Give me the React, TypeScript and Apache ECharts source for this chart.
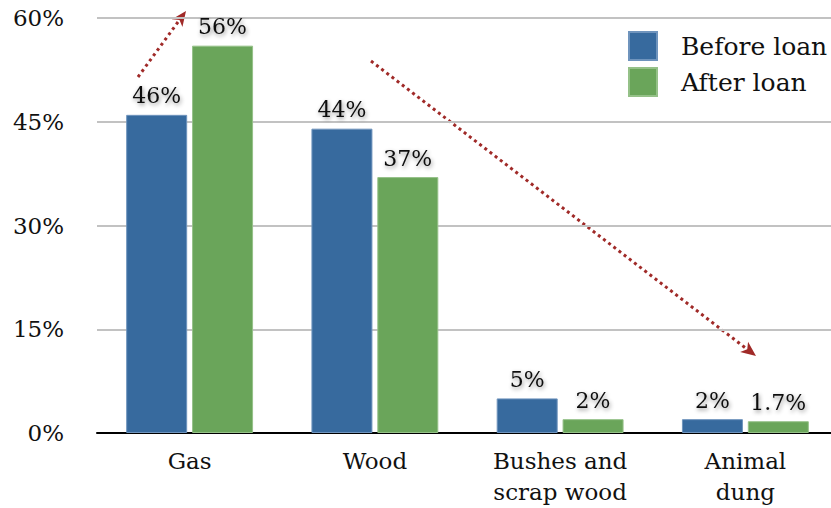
import React, { useEffect, useRef } from "react";
import * as echarts from "echarts";

const categories = ["Gas", "Wood", "Bushes and\nscrap wood", "Animal\ndung"];
const beforeLoan = [46, 44, 5, 2];
const afterLoan = [56, 37, 2, 1.7];
const seriesNames = ["Before loan", "After loan"];
const yTicks = { min: 0, max: 60, interval: 15 };

const FONT = "'DejaVu Serif', Georgia, serif";
const TEXT = "#111111";
const ARROW_RED = "#a02a28";

// Dotted annotation arrow: a dashed shaft plus a filled triangular head.
function arrow(x1: number, y1: number, x2: number, y2: number) {
  const dx = x2 - x1;
  const dy = y2 - y1;
  const len = Math.hypot(dx, dy);
  const ux = dx / len;
  const uy = dy / len;
  const headLen = 15;
  const headHalf = 6.5;
  const bx = x2 - ux * headLen;
  const by = y2 - uy * headLen;
  const px = -uy;
  const py = ux;
  return [
    {
      type: "line",
      shape: { x1, y1, x2: bx + ux * 2, y2: by + uy * 2 },
      style: { stroke: ARROW_RED, lineWidth: 3, lineDash: [3, 3.5] },
      silent: true,
    },
    {
      type: "polygon",
      shape: {
        points: [
          [x2, y2],
          [bx + px * headHalf, by + py * headHalf],
          [bx + ux * 4, by + uy * 4],
          [bx - px * headHalf, by - py * headHalf],
        ],
      },
      style: { fill: ARROW_RED },
      silent: true,
    },
  ];
}

const labelStyle = {
  show: true,
  position: "top" as const,
  distance: 8,
  fontFamily: FONT,
  fontSize: 22,
  color: TEXT,
  formatter: (p: any) => `${p.value}%`,
  textShadowColor: "rgba(0,0,0,0.45)",
  textShadowBlur: 4,
  textShadowOffsetX: 1,
  textShadowOffsetY: 2,
};

export default function App() {
  const ref = useRef<HTMLDivElement>(null);

  useEffect(() => {
    if (!ref.current) return;
    const chart = echarts.init(ref.current, undefined, { renderer: "svg" });
    chart.setOption({
      animation: false,
      backgroundColor: "#ffffff",
      textStyle: { fontFamily: FONT },
      grid: {
        left: 97,
        top: 18,
        width: 741,
        height: 415,
        containLabel: false,
        outerBoundsMode: "none",
      },
      legend: {
        data: seriesNames,
        orient: "vertical",
        left: 623,
        top: 26,
        itemWidth: 28,
        itemHeight: 28,
        itemGap: 6,
        icon: "rect",
        textStyle: {
          fontFamily: FONT,
          fontSize: 25,
          color: TEXT,
          padding: [0, 0, 0, 19],
        },
      },
      xAxis: {
        type: "category",
        data: categories,
        axisLine: { show: true, lineStyle: { color: "#000", width: 2 } },
        axisTick: { show: false },
        axisLabel: {
          fontFamily: FONT,
          fontSize: 23,
          color: TEXT,
          margin: 12,
          lineHeight: 31,
          interval: 0,
        },
      },
      yAxis: {
        type: "value",
        min: yTicks.min,
        max: yTicks.max,
        interval: yTicks.interval,
        axisLine: { show: false },
        axisTick: { show: false },
        axisLabel: {
          formatter: "{value}%",
          fontFamily: FONT,
          fontSize: 23,
          color: TEXT,
          margin: 33,
        },
        splitLine: { lineStyle: { color: "#c2c2c2", width: 2 } },
      },
      series: [
        {
          name: seriesNames[0],
          type: "bar",
          data: beforeLoan,
          barWidth: 61,
          barGap: "8%",
          itemStyle: { color: "#376a9e", borderColor: "#6f94bd", borderWidth: 1 },
          label: labelStyle,
        },
        {
          name: seriesNames[1],
          type: "bar",
          data: afterLoan,
          barWidth: 61,
          barGap: "8%",
          itemStyle: { color: "#6aa55a", borderColor: "#95c188", borderWidth: 1 },
          label: labelStyle,
        },
      ],
      graphic: [...arrow(138, 77, 186, 11), ...arrow(371, 61, 756, 356)],
    });
    return () => chart.dispose();
  }, []);

  return (
    <div
      ref={ref}
      style={{ position: "absolute", left: 0, top: 0, width: 831, height: 508 }}
    />
  );
}
